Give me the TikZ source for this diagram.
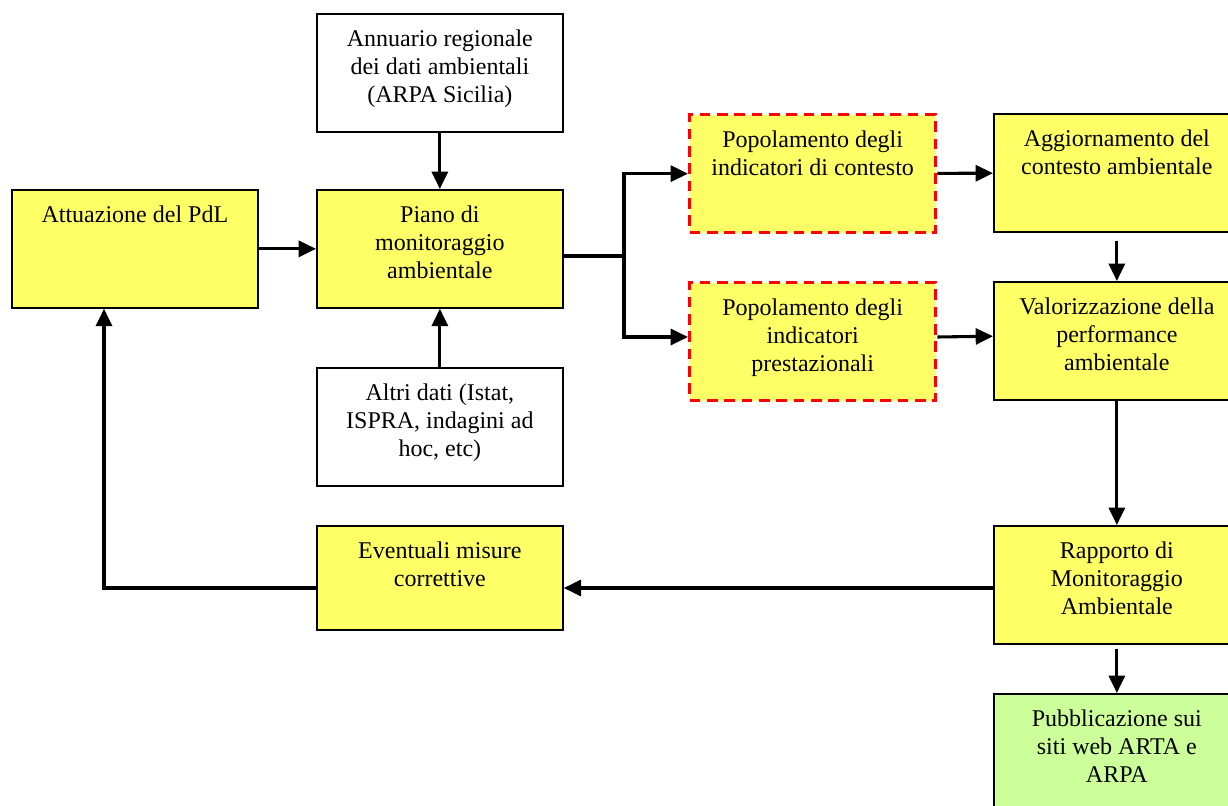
\documentclass[tikz,border=0pt]{standalone}
\usepackage{fontspec}
\setmainfont{Liberation Serif}
\usetikzlibrary{arrows.meta}

\definecolor{boxyellow}{HTML}{FFFF66}
\definecolor{boxgreen}{HTML}{CCFF99}

\begin{document}
\begin{tikzpicture}[
        x=0.75pt, y=-0.75pt,
        box/.style={draw, line width=1.3pt, inner xsep=4.25pt, inner ysep=0pt, anchor=north west,
            font=\fontsize{18pt}{21pt}\selectfont,
            execute at begin node={\begin{minipage}[t][#1][t]{176pt}\centering\vspace*{12pt}},
            execute at end node={\end{minipage}}},
        box/.default=88.5pt,
        giallo/.style={box=#1, fill=boxyellow},
        giallo/.default=88.5pt,
        bianco/.style={box, fill=white},
        verde/.style={box, fill=boxgreen},
        indicatore/.style={box, fill=boxyellow, draw=red, line width=2.5pt, dash pattern=on 8pt off 5pt},
        freccia/.style={-{Triangle[length=13pt, width=12pt]}, line width=2.3pt}
    ]
        \clip (0,0) rectangle (1228,806);
        \node[bianco] (annuario) at (316,13) {Annuario regionale\\dei dati ambientali\\(ARPA Sicilia)};
        \node[giallo] (attuazione) at (11,189) {Attuazione del PdL};
        \node[giallo] (piano) at (316,189) {Piano di\\monitoraggio\\ambientale};
        \node[bianco] (altri) at (316,367) {Altri dati (Istat,\\ISPRA, indagini ad\\hoc, etc)};
        \node[indicatore] (contesto) at (688,113) {Popolamento degli\\indicatori di contesto};
        \node[indicatore] (prestaz) at (688,281) {Popolamento degli\\indicatori\\prestazionali};
        \node[giallo] (aggiorn) at (993,113) {Aggiornamento del\\contesto ambientale};
        \node[giallo] (valoriz) at (993,281) {Valorizzazione della\\performance\\ambientale};
        \node[giallo] (rapporto) at (993,525) {Rapporto di\\Monitoraggio\\Ambientale};
        \node[giallo=78pt] (misure) at (316,525) {Eventuali misure\\correttive};
        \node[verde] (pubbl) at (993,693) {Pubblicazione sui\\siti web ARTA e\\ARPA};
        \coordinate (bivio) at (624,256);
        \coordinate (ritorno) at (104,588);
        \draw[freccia] (annuario) -- (piano);
        \draw[freccia] (altri) -- (piano);
        \draw[freccia] (attuazione) -- (piano);
        \draw[line width=2.3pt] (bivio -| piano.east) -- (bivio);
        \draw[freccia] (bivio) |- (contesto);
        \draw[freccia] (bivio) |- ([yshift=3.5pt]prestaz.west);
        \draw[freccia] (contesto) -- (aggiorn);
        \draw[freccia] ([yshift=3.5pt]prestaz.east) -- ([yshift=3.5pt]valoriz.west);
        \draw[freccia, shorten <=6pt] (aggiorn) -- (valoriz);
        \draw[freccia] (valoriz) -- (rapporto);
        \draw[freccia, shorten <=3pt] (rapporto) -- (pubbl);
        \draw[freccia] (rapporto.west |- ritorno) -- (misure.east |- ritorno);
        \draw[freccia] (misure.west |- ritorno) -- (ritorno) -- (ritorno |- attuazione.south);
    \end{tikzpicture}
\end{document}
